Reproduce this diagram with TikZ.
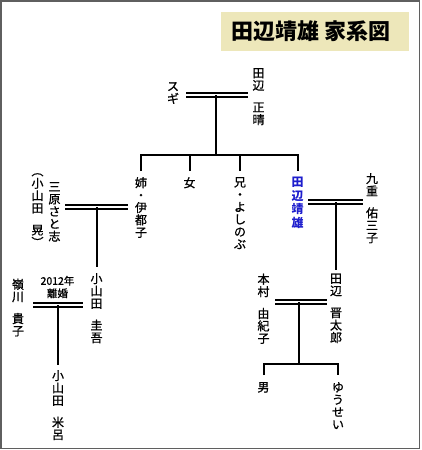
\documentclass[tikz,border=0pt]{standalone}
\usepackage{fontspec}
\newfontfamily\jp[FakeBold=0.9]{Noto Sans CJK JP}
\newfontfamily\jpt{Noto Sans CJK JP}
\definecolor{titlebg}{RGB}{237,231,186}
\definecolor{hlblue}{RGB}{30,30,205}
\definecolor{frame}{RGB}{95,95,95}
\begin{document}
\begin{tikzpicture}[x=1pt,y=-1pt,
  person/.style={font=\jp\fontsize{12}{12.4}\selectfont, align=center, inner sep=0pt, anchor=north},
  note/.style={font=\jp\fontsize{10.5}{12.5}\selectfont, align=center, inner sep=0pt},
  line/.style={line width=2pt},
  marriage/.style={double, double distance=2.3pt, line width=1.5pt}
]
\useasboundingbox (0,0) rectangle (421,450);
\draw[frame, line width=1.5pt] (1,1.2) rectangle (419.5,448.3);
% title
\node[fill=titlebg, minimum width=188pt, minimum height=39pt, inner sep=0pt] (title) at (315,31.5) {};
\node[font=\jpt\bfseries\fontsize{22}{24}\selectfont, inner sep=0pt] (titletext) at (311,31.5) {田辺靖雄\hspace{5pt}家系図};

% generation 1
\node[person] (sugi) at (173,82) {ス\\ギ};
\node[person] (masaharu) at (258.5,68) {田\\辺\\[9.5pt]正\\晴};
\coordinate (m1a) at (186,95);
\coordinate (m1b) at (248,95);
\coordinate (m1) at (216,95);
\coordinate (j1) at (216,155);
\draw[marriage] (m1a) -- (m1b);
\draw[line] (m1) -- (j1);

% generation 2
\node[person] (itsuko) at (141,177) {姉\\・\\伊\\都\\子};
\node[person] (onna) at (189.5,177) {女};
\node[person] (yoshinobu) at (240,177) {兄\\・\\よ\\し\\の\\ぶ};
\node[person, text=hlblue, font=\jpt\bfseries\fontsize{12}{13.6}\selectfont] (yasuo) at (297.5,177) {田\\辺\\靖\\雄};
\draw[line] ([yshift=6pt]itsuko.north) |- (j1) -| ([yshift=6pt]yasuo.north);
\draw[line] ([yshift=6pt]onna.north) -- (onna.north |- j1);
\draw[line] ([yshift=6pt]yoshinobu.north) -- (yoshinobu.north |- j1);

% Itsuko couple
\node[person] (mihara) at (54.5,182) {三\\原\\さ\\と\\志};
\node[person] (akira) at (37.5,173) {︵\\小\\山\\田\\[9.5pt]晃\\︶};
\coordinate (m2a) at (65,207);
\coordinate (m2b) at (128,207);
\coordinate (m2) at (96.5,207);
\draw[marriage] (m2a) -- (m2b);
\node[person] (keigo) at (96.5,273) {小\\山\\田\\[9.5pt]圭\\吾};
\draw[line] (m2) -- ([yshift=6pt]keigo.north);

% Keigo couple
\node[person] (takako) at (18,278.5) {嶺\\川\\[9.5pt]貴\\子};
\node[note] (divorce) at (57.5,287) {2012年\\離婚};
\coordinate (m3a) at (33,305);
\coordinate (m3b) at (83,305);
\coordinate (m3) at (58,305);
\draw[marriage] (m3a) -- (m3b);
\node[person] (meiro) at (58,370) {小\\山\\田\\[9.5pt]米\\呂};
\draw[line] (m3) -- ([yshift=5pt]meiro.north);

% Yasuo couple
\node[person] (yumiko) at (372,173) {九\\重\\[9.5pt]佑\\三\\子};
\coordinate (m4a) at (308,202);
\coordinate (m4b) at (363,202);
\coordinate (m4) at (336,202);
\draw[marriage] (m4a) -- (m4b);
\node[person] (shintaro) at (336,273.5) {田\\辺\\[9.5pt]晋\\太\\郎};
\draw[line] (m4) -- ([yshift=4pt]shintaro.north);

% Shintaro couple
\node[person] (yukiko) at (263.5,273.5) {本\\村\\[9.5pt]由\\紀\\子};
\coordinate (m5a) at (275,302);
\coordinate (m5b) at (327,302);
\coordinate (m5) at (298.5,302);
\coordinate (j5) at (298.5,364);
\draw[marriage] (m5a) -- (m5b);
\draw[line] (m5) -- (j5);
\node[person] (otoko) at (263.5,382) {男};
\node[person] (yusei) at (338,382) {ゆ\\う\\せ\\い};
\draw[line] ([yshift=7pt]otoko.north) |- (j5) -| ([yshift=7pt]yusei.north);
\end{tikzpicture}
\end{document}
